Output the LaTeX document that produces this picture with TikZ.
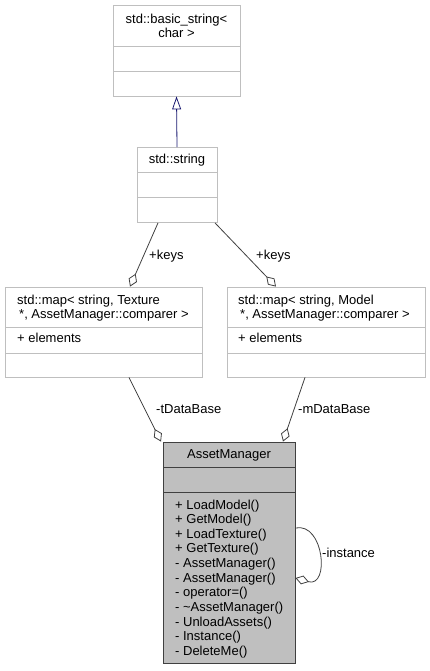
\documentclass[tikz,border=0pt]{standalone}
\usepackage{fontspec}
\setmainfont{Liberation Sans}
\usetikzlibrary{arrows.meta}
\definecolor{boxgrey}{HTML}{BFBFBF}
\definecolor{edgegrey}{HTML}{404040}
\definecolor{inhblue}{HTML}{191970}
\tikzset{
  classbox/.style={draw=boxgrey, fill=white, line width=0.8pt, inner sep=0pt},
  mainbox/.style={draw=edgegrey, fill=boxgrey, line width=0.9pt, inner sep=0pt},
  txt/.style={anchor=base west, inner sep=0pt, font=\fontsize{13pt}{14.7pt}\selectfont},
  ctxt/.style={anchor=base, inner sep=0pt, font=\fontsize{13pt}{14.7pt}\selectfont},
  assoc/.style={draw=edgegrey, line width=0.8pt, -{Diamond[open, length=14pt, width=9pt]}},
  inherit/.style={draw=inhblue, line width=0.8pt, -{Triangle[open, length=13pt, width=9pt]}}
}
\begin{document}
\begin{tikzpicture}[x=1pt, y=-1pt]
 \useasboundingbox (0,0) rectangle (429,671);
 % std::basic_string< char >
 \node[classbox, minimum width=127pt, minimum height=91pt] (basicstr) at (176.5,50.5) {};
 \draw[boxgrey, line width=0.8pt] (113,46) -- (240,46);
 \draw[boxgrey, line width=0.8pt] (113,71) -- (240,71);
 \node[ctxt] at (176.5,24) {std::basic\_string<};
 \node[ctxt] at (176.5,38) {char >};
 %
 % std::string
 \node[classbox, minimum width=80pt, minimum height=75pt] (stdstr) at (177,185) {};
 \draw[boxgrey, line width=0.8pt] (137,172) -- (217,172);
 \draw[boxgrey, line width=0.8pt] (137,197) -- (217,197);
 \node[ctxt] at (177,164) {std::string};
 %
 % std::map (Texture)
 \node[classbox, minimum width=197pt, minimum height=90pt] (texmap) at (103.5,332) {};
 \draw[boxgrey, line width=0.8pt] (5,327) -- (202,327);
 \draw[boxgrey, line width=0.8pt] (5,353) -- (202,353);
 \node[txt] at (17,304) {std::map< string, Texture};
 \node[txt] at (19,318) {*, AssetManager::comparer >};
 \node[txt] at (17,342) {+ elements};
 %
 % std::map (Model)
 \node[classbox, minimum width=198pt, minimum height=90pt] (modmap) at (326,332) {};
 \draw[boxgrey, line width=0.8pt] (227,327) -- (425,327);
 \draw[boxgrey, line width=0.8pt] (227,353) -- (425,353);
 \node[txt] at (238,304) {std::map< string, Model};
 \node[txt] at (240,318) {*, AssetManager::comparer >};
 \node[txt] at (238,342) {+ elements};
 %
 % AssetManager
 \node[mainbox, minimum width=132pt, minimum height=221pt] (am) at (229,552.5) {};
 \draw[edgegrey, line width=0.9pt] (163,467) -- (295,467);
 \draw[edgegrey, line width=0.9pt] (163,492) -- (295,492);
 \node[ctxt] at (229,458) {AssetManager};
 \foreach \op [count=\i] in {+ LoadModel(), + GetModel(), + LoadTexture(), + GetTexture(),
   - AssetManager(), - AssetManager(), - operator=(), - \textasciitilde AssetManager(),
   - UnloadAssets(), - Instance(), - DeleteMe()}
   \node[txt] at (175,{509+14.65*(\i-1)}) {\op};
 %
 % connectors
 \draw[inherit] (stdstr.north) -- (basicstr.south);
 \draw[assoc] ([xshift=-19pt]stdstr.south) -- ([xshift=26.5pt]texmap.north);
 \node[txt] at (149,259) {+keys};
 \draw[assoc] ([xshift=38pt]stdstr.south) -- ([xshift=-50pt]modmap.north);
 \node[txt] at (256,259) {+keys};
 \draw[assoc] ([xshift=25.5pt]texmap.south) -- ([xshift=-68pt]am.north);
 \node[txt] at (156,413) {-tDataBase};
 \draw[assoc] ([xshift=-21pt]modmap.south) -- ([xshift=54pt]am.north);
 \node[txt] at (298,413) {-mDataBase};
 \draw[assoc] ([yshift=24.5pt]am.east) .. controls (324,522) and (330,588) .. ([yshift=-25.5pt]am.east);
 \node[txt] at (322,557) {-instance};
\end{tikzpicture}
\end{document}
